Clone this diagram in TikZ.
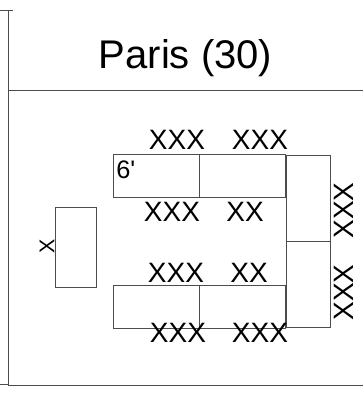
\documentclass[tikz,border=0pt]{standalone}
\usepackage{fontspec}
\setmainfont{Liberation Sans}
\newfontfamily\plainfont{Liberation Sans}
\usetikzlibrary{positioning}
\definecolor{frameline}{gray}{0.3}
\tikzstyle{frame} = [draw=frameline,line width=0.75pt]

\begin{document}
\begin{tikzpicture}[x=0.75pt,y=-0.75pt,node distance=0pt,
	table node/.style={rectangle, minimum width=64.5pt, minimum height=32.25pt, inner sep=0pt, outer sep=0pt, draw=frameline, line width=0.75pt},
	side node/.style={rectangle, minimum width=33pt, minimum height=64.5pt, inner sep=0pt, outer sep=0pt, draw=frameline, line width=0.75pt},
	seats/.style={inner sep=0pt, font=\fontsize{21pt}{21pt}\selectfont}]
	\useasboundingbox (0,0) rectangle (363,393);
	
	\draw[frame] (0,10) -- (13,10);
	\draw[frame] (8,10) -- (8,385) -- (363,385);
	\draw[frame] (8,90) -- (363,90);
	\draw[frame] (0,384) -- (8,384);
	
	\node[anchor=base,inner sep=0pt,font=\fontsize{30pt}{30pt}\selectfont] (title) at (185.5,68) {Paris (30)};
	
	\node[table node,anchor=north west] (a) at (113,154) {};
	\node[table node] (b) [right=of a] {};
	\node[table node,anchor=north west] (c) at (113,285) {};
	\node[table node] (d) [right=of c] {};
	\node[side node,anchor=north west] (e) at (286,155) {};
	\node[side node] (f) [below=of e] {};
	\node[rectangle,draw=frameline,line width=0.75pt,minimum width=31pt,minimum height=60.5pt,inner sep=0pt,outer sep=0pt,anchor=north west] (podium) at (55,207) {};
	
	\node[anchor=north west,inner sep=0pt,font=\plainfont\fontsize{19pt}{19pt}\selectfont] (size) at (116,161) {6'};
	
	\node[seats] (s1) at (177,140) {XXX};
	\node[seats] (s2) at (260,140) {XXX};
	\node[seats] (s3) at (172,211.5) {XXX};
	\node[seats] (s4) at (245,211.5) {XX};
	\node[seats] (s5) at (176,273) {XXX};
	\node[seats] (s6) at (249,273) {XX};
	\node[seats] (s7) at (178,333) {XXX};
	\node[seats] (s8) at (260,333) {XXX};
	\node[seats,rotate=90] (s9) at (343.5,210.5) {XXX};
	\node[seats,rotate=90] (s10) at (343.5,292.5) {XXX};
	\node[seats,rotate=90,font=\fontsize{16pt}{16pt}\selectfont] (s11) at (47,246) {X};
\end{tikzpicture}
\end{document}
